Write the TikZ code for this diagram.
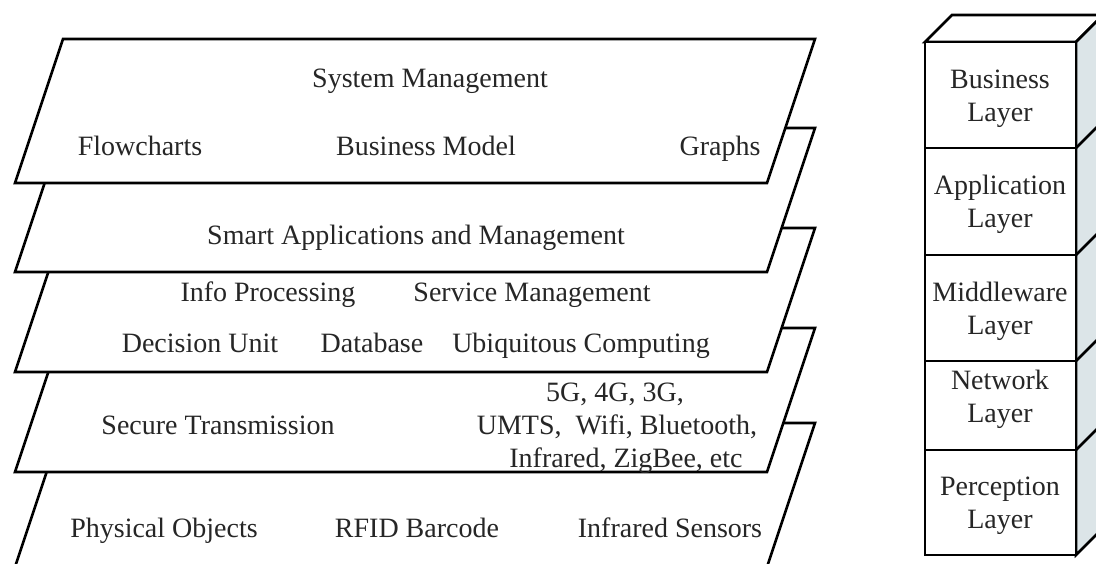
\documentclass[tikz,border=0pt]{standalone}
\usepackage{fontspec}
\setmainfont{Liberation Serif}
\definecolor{sidegray}{HTML}{DCE5E8}
\definecolor{txt}{HTML}{262626}
\begin{document}
\begin{tikzpicture}[x=1pt,y=-1pt,
  layerbox/.style={draw=black, fill=white, line width=2.6pt, line join=miter},
  boxline/.style={draw=black, line width=2.6pt, line join=miter},
  lbl/.style={font=\fontsize{28}{33}\selectfont, text=txt, inner sep=0pt, align=center},
  one/.style={lbl, text height=19pt, text depth=6pt}]
\useasboundingbox (0,0) rectangle (1096,564);
\clip (0,0) rectangle (1096,564);
\fill[white] (0,0) rectangle (1096,564);
% left stack of layers, bottom first
\foreach \t in {423,328,228,128,39}
  \draw[layerbox] (63,\t) -- (815,\t) -- (767,{\t+144}) -- (15,{\t+144}) -- cycle;
% layer 1
\node[one] (sysm) at (430,81) {System Management};
\node[one] (flow) at (140,149) {Flowcharts};
\node[one] (bmod) at (426,149) {Business Model};
\node[one] (grph) at (720,149) {Graphs};
% layer 2
\node[one] (smart) at (416,238) {Smart Applications and Management};
% layer 3
\node[one] (info) at (268,295) {Info Processing};
\node[one] (serv) at (532,295) {Service Management};
\node[one] (dec) at (200,346) {Decision Unit};
\node[one] (db) at (372,346) {Database};
\node[one] (ubi) at (581,346) {Ubiquitous Computing};
% layer 4
\node[one] (sec) at (218,428) {Secure Transmission};
\node[one] (g1) at (615,395) {5G, 4G, 3G,};
\node[one] (g2) at (617,428) {UMTS,\ \ Wifi, Bluetooth,};
\node[one] (g3) at (626,461) {Infrared, ZigBee, etc};
% layer 5
\node[one] (phys) at (164,531) {Physical Objects};
\node[one] (rfid) at (417,531) {RFID Barcode};
\node[one] (irs) at (670,531) {Infrared Sensors};
% right box
\draw[boxline, fill=white] (925,42) -- (952,15) -- (1103,15) -- (1076,42) -- cycle;
\draw[boxline, fill=sidegray] (1076,42) -- (1103,15) -- (1103,528) -- (1076,555) -- cycle;
\foreach \a/\b in {42/148,148/255,255/361,361/450,450/555}
  \draw[boxline, fill=white] (925,\a) rectangle (1076,\b);
\foreach \y in {148,255,361,450}
  \draw[boxline] (1076,\y) -- (1103,{\y-27});
\node[lbl] (bl) at (1000,98.5) {Business\\Layer};
\node[lbl] (al) at (1000,204.5) {Application\\Layer};
\node[lbl] (ml) at (1000,311.5) {Middleware\\Layer};
\node[lbl] (nl) at (1000,399) {Network\\Layer};
\node[lbl] (pl) at (1000,505.5) {Perception\\Layer};
\end{tikzpicture}
\end{document}
